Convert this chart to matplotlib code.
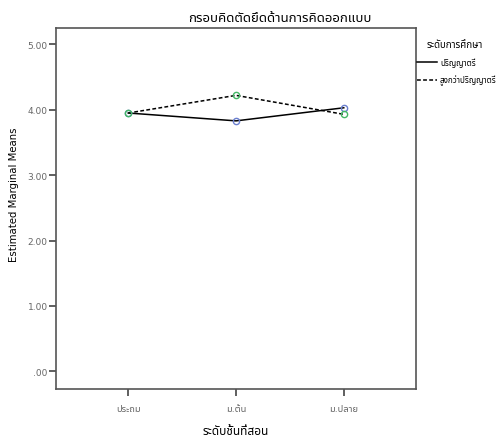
import matplotlib
matplotlib.use("Agg")
import matplotlib.pyplot as plt
from matplotlib import font_manager
from matplotlib.lines import Line2D

# pick an installed Thai font, Latin text stays in DejaVu Sans
names = {f.name for f in font_manager.fontManager.ttflist}
thai = next((n for n in ["Noto Sans Thai", "Noto Sans Thai UI", "Anuphan", "Sarabun",
                         "Kanit", "Prompt", "Athiti"] if n in names), "DejaVu Sans")
plt.rcParams['font.family'] = ['DejaVu Sans', thai]

title = "กรอบคิดตัดยึดด้านการคิดออกแบบ"
categories = ["ประถม", "ม.ต้น", "ม.ปลาย"]
bachelor = [3.95, 3.83, 4.03]
above_bachelor = [3.95, 4.22, 3.93]
series_names = ["ปริญญาตรี", "สูงกว่าปริญญาตรี"]
legend_title = "ระดับการศึกษา"
yticks = [0, 1, 2, 3, 4, 5]

W, H = 504, 439
fig = plt.figure(figsize=(W / 100, H / 100), dpi=100)
ax = fig.add_axes([56 / W, 1 - 390 / H, 360 / W, 361 / H])

dash = (0, (2.5, 1.5))
x = list(range(len(categories)))
ax.plot(x, bachelor, color='black', lw=1.1, ls='-', zorder=2)
ax.plot(x, above_bachelor, color='black', lw=1.1, ls=dash, zorder=2)
ax.plot(x, bachelor, ls='none', marker='o', ms=4.5, mfc='none', mec='#6a7fcf', mew=1.0, zorder=3)
ax.plot(x, above_bachelor, ls='none', marker='o', ms=4.5, mfc='none', mec='#45b866', mew=1.0, zorder=4)

ax.set_xlim(-0.67, 2.67)
ax.set_ylim(-0.27, 5.25)
ax.set_xticks(x)
ax.set_xticklabels(categories)
ax.set_yticks(yticks)
ax.set_yticklabels([".00" if v == 0 else f"{v:.2f}" for v in yticks])
ax.tick_params(direction='out', length=5, width=1.2, color='#444444',
               labelsize=6.5, labelcolor='#666666', pad=1)
ax.tick_params(axis='x', labelsize=6.7, pad=6)
for s in ax.spines.values():
    s.set_color('#555555')
    s.set_linewidth(1.2)

fig.text(188 / W, 1 - 19 / H, title, fontsize=9.5, ha='left', va='center')
ax.set_ylabel("Estimated Marginal Means", fontsize=7.3)
ax.yaxis.set_label_coords(-37 / 360, 0.54)
ax.set_xlabel("ระดับชั้นที่สอน", fontsize=8.5, fontweight='bold', labelpad=8)

# legend outside the frame on the right
fig.text(427 / W, 1 - 45 / H, legend_title, fontsize=7, ha='left', va='center')
for i, (lab, ls) in enumerate(zip(series_names, ['-', dash])):
    yy = 1 - (63 + 17.5 * i) / H
    fig.add_artist(Line2D([417 / W, 437 / W], [yy, yy], color='black', lw=1.1, ls=ls))
    fig.text(440 / W, yy, lab, fontsize=5.8, ha='left', va='center')

fig.savefig("out.png", dpi=100)
